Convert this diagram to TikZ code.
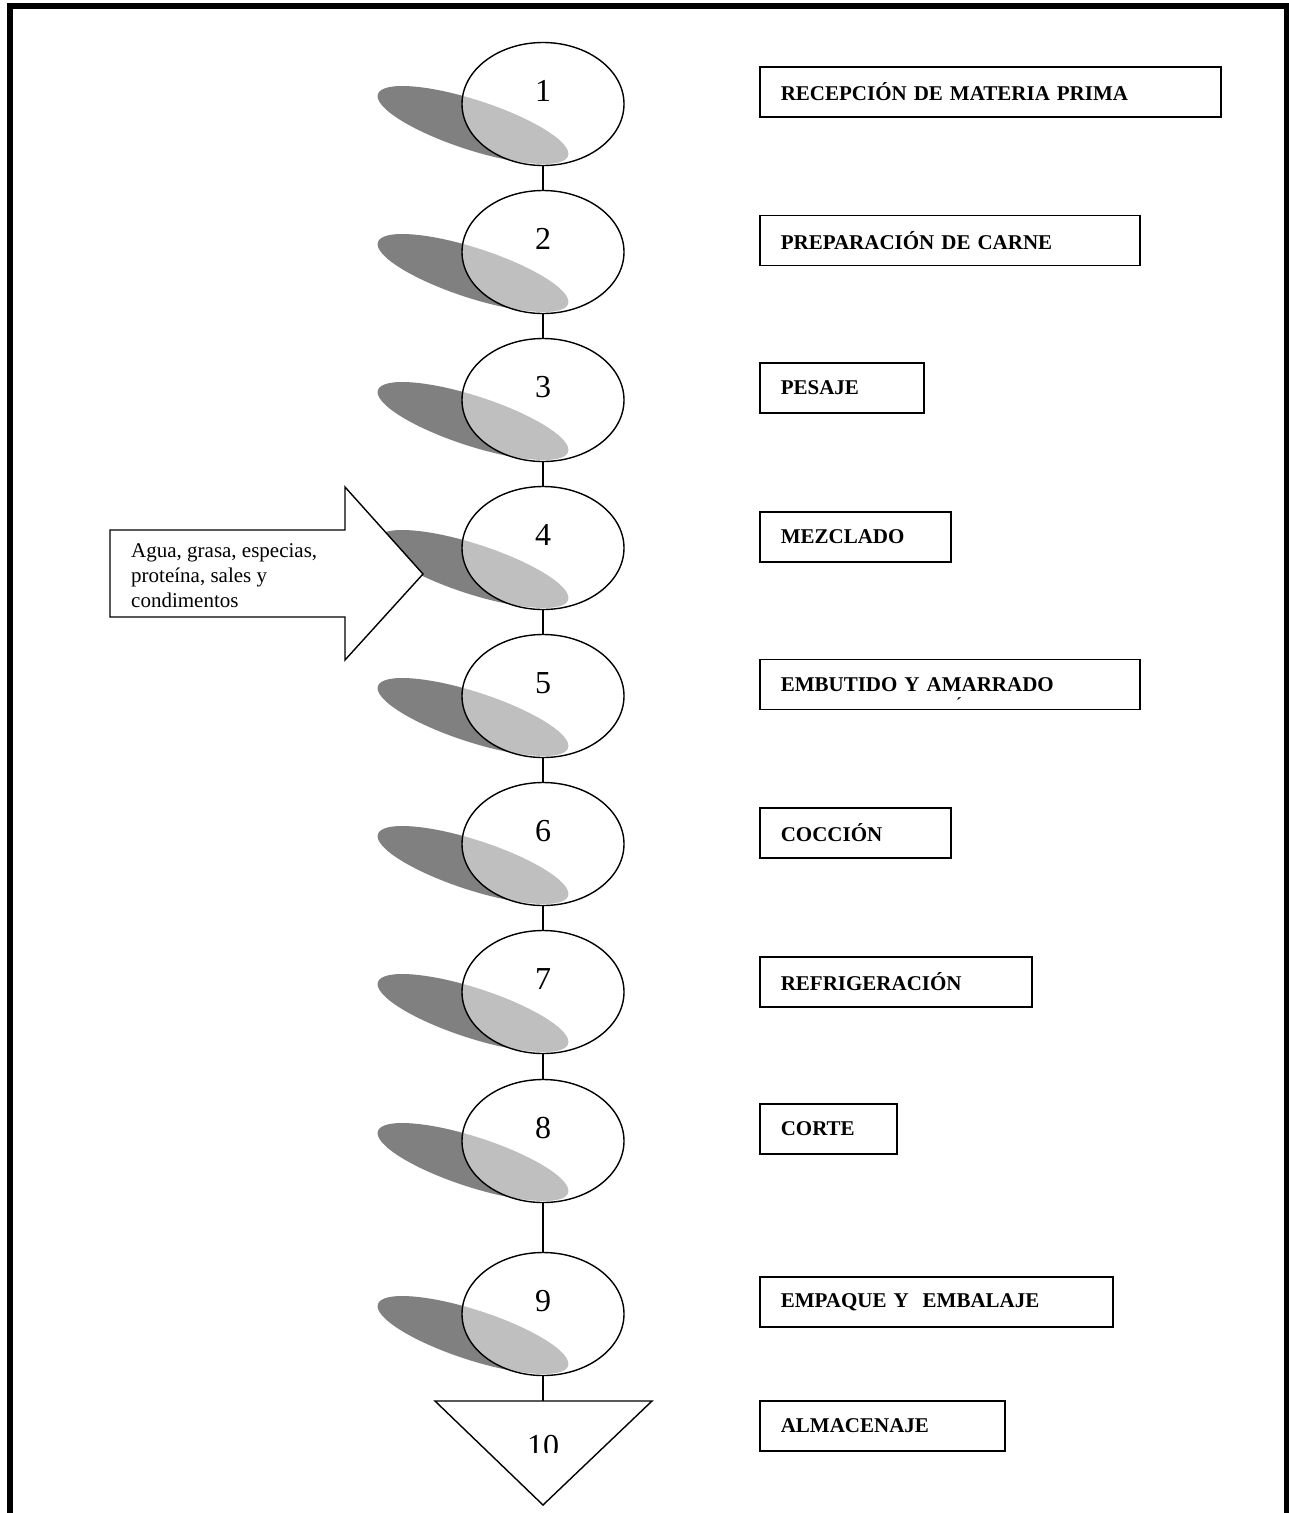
\documentclass[tikz,border=0pt]{standalone}
\usepackage{fontspec}
\setmainfont{Liberation Serif}
\usetikzlibrary{shapes.geometric}

\begin{document}
\begin{tikzpicture}[x=1pt,y=-1pt,
    paso/.style={ellipse,draw,line width=1.4pt,fill=white,fill opacity=.5,text opacity=1,
      minimum width=162pt,minimum height=123pt,inner sep=0pt,
      font=\fontsize{32}{38}\selectfont,text height=22pt,text depth=28pt},
    sombra/.style={fill=black!50},
    etiqueta/.style={draw,line width=1.6pt,minimum height=50pt,inner xsep=21pt,inner ysep=0pt,
      align=left,anchor=west,font=\fontsize{21}{24}\bfseries\selectfont},
    conector/.style={line width=1.2pt}]
                                    \useasboundingbox (0,0) rectangle (1289,1513);
                                    \def\xc{543};
% frame
                                    \draw[line width=6pt] (10,1513) -- (10,6) -- (1287,6) -- (1287,1513);

% steps
                                    \foreach \n/\yc in {1/104,2/252,3/400,4/548,5/696,6/844,7/992,8/1141,9/1314}{
                                      \fill[sombra,rotate around={-18:(\xc-70,\yc+21)}] (\xc-70,\yc+21) ellipse (100 and 25);
                                      \node[paso] (e\n) at (\xc,\yc) {\n};
                                    }
                                    \foreach \a/\b in {1/2,2/3,3/4,4/5,5/6,6/7,7/8,8/9}
                                      \draw[conector] (e\a) -- (e\b);

% storage
                                    \draw[line width=1.4pt,fill=white] (435,1401) -- (652,1401) -- (\xc,1505) -- cycle;
                                    \coordinate (almacen) at (\xc,1401);
                                    \draw[conector] (e9) -- (almacen);
                                    \begin{scope}
                                      \clip (435,1401) rectangle (652,1452);
                                      \node[font=\fontsize{32}{38}\selectfont] (n10) at (\xc,1446) {10};
                                    \end{scope}

% inputs
                                    \draw[line width=1.4pt,fill=white] (110,530) -- (345,530) -- (345,487) -- (423,574)
                                      -- (345,660) -- (345,617) -- (110,617) -- cycle;
                                    \node[align=left,anchor=west,inner sep=0pt,font=\fontsize{21}{25}\selectfont] (insumos) at (131,576)
                                      {Agua, grasa, especias,\\proteína, sales y\\condimentos};

% labels
                                    \foreach \n/\yc/\w/\txt in {1/92/419/RECEPCIÓN DE MATERIA PRIMA,2/240.5/338/PREPARACIÓN DE CARNE,
                                      3/388/122/PESAJE,4/537/149/MEZCLADO,5/684.5/338/EMBUTIDO Y AMARRADO,6/833/149/COCCIÓN,
                                      7/982/230/REFRIGERACIÓN,8/1129/95/CORTE,9/1302/311/EMPAQUE Y\ \ EMBALAJE,10/1426/203/ALMACENAJE}
                                      \node[etiqueta,text width=\w pt] (l\n) at (759,\yc) {\txt};
                                    \node[inner sep=0pt,font=\fontsize{17}{20}\bfseries\selectfont] (acento) at (959,704) {´};

                                \end{tikzpicture}
\end{document}
